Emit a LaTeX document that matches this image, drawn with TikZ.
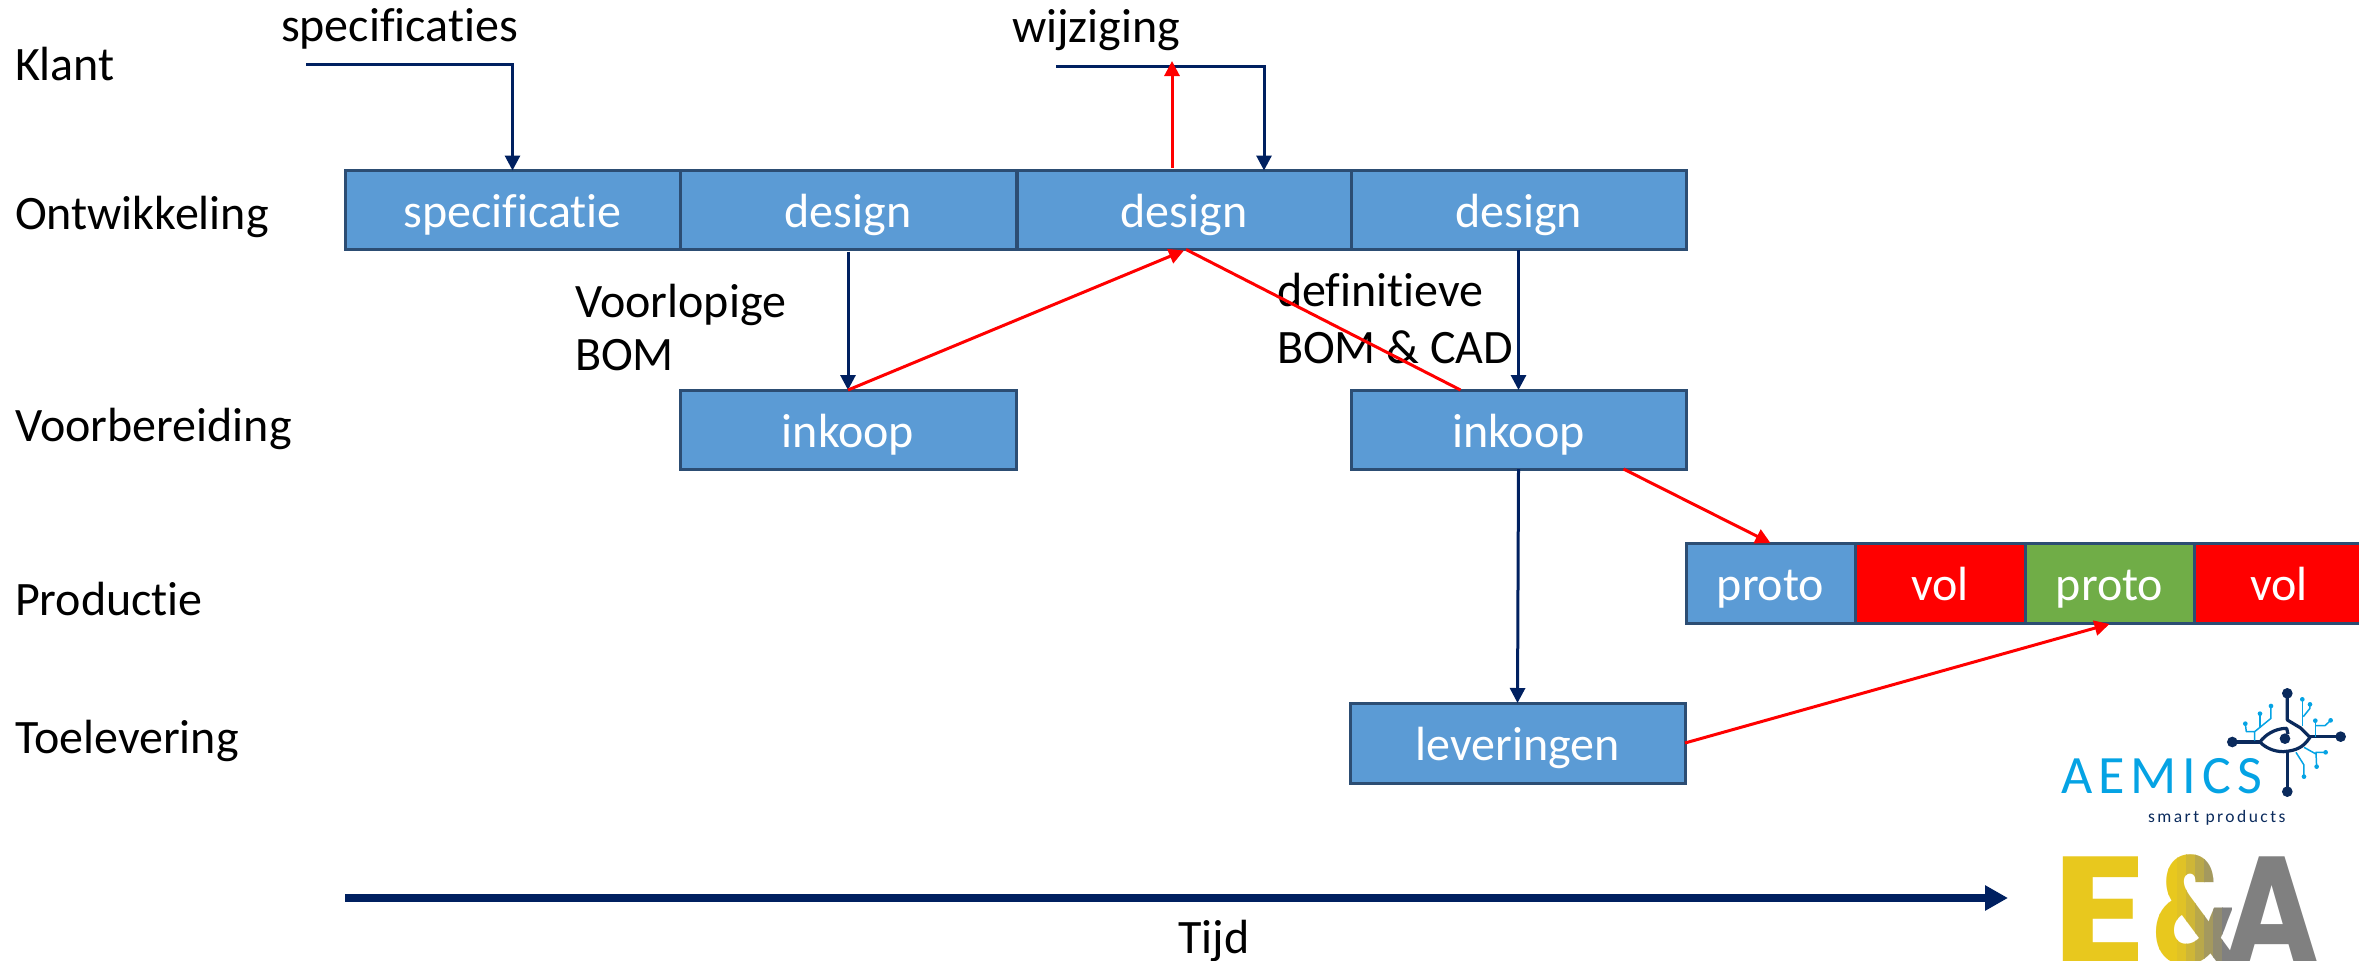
\documentclass[tikz,border=0pt]{standalone}
\usepackage{fontspec}
\setmainfont{Carlito}[Ligatures={NoCommon,NoRequired,NoContextual}]
\newfontfamily\logofont{Carlito}
\newfontfamily\eafont{Poppins}[UprightFont=* Bold]
\usetikzlibrary{arrows.meta,calc}
\definecolor{boxblue}{HTML}{5B9BD5}
\definecolor{boxline}{HTML}{2C4D73}
\definecolor{boxgreen}{HTML}{70AD47}
\definecolor{navy}{HTML}{002060}
\definecolor{logonavy}{HTML}{0A2A5C}
\definecolor{logocyan}{HTML}{05A3E4}
\definecolor{gold}{HTML}{E8C81E}
\definecolor{steel}{HTML}{808080}
\tikzset{
  txt/.style={inner sep=0pt,outer sep=0pt,font=\fontsize{48}{57}\selectfont},
  stagebox/.style={draw=boxline,line width=3pt,fill=boxblue,text=white,inner sep=0pt,outer sep=0pt,
    minimum height=79pt,text height=35pt,text depth=0pt,font=\fontsize{48}{57}\selectfont},
  flow/.style={navy,line width=3pt,-{Triangle[length=15pt,width=15pt]}},
  redflow/.style={red,line width=3pt,-{Triangle[length=15pt,width=15pt]}},
  redplain/.style={red,line width=3pt},
  timeflow/.style={navy,line width=8pt,-{Triangle[length=23pt,width=24pt]}},
  navytrace/.style={logonavy,line width=3.2pt,line join=round},
  cyantrace/.style={logocyan,line width=1.5pt,line join=round},
}
\begin{document}
\begin{tikzpicture}[x=1pt,y=-1pt]
\useasboundingbox (0,0) rectangle (2359,961);
\clip (0,0) rectangle (2359,961);
% row labels
\node[txt,anchor=base west] (klant) at (15,80.5) {Klant};
\node[txt,anchor=base west] (ontw) at (15,229) {Ontwikkeling};
\node[txt,anchor=base west] (voorb) at (15,441.5) {Voorbereiding};
\node[txt,anchor=base west] (prod) at (15,615.5) {Productie};
\node[txt,anchor=base west] (toel) at (15,753) {Toelevering};
% boxes
\node[stagebox,minimum width=335pt] (spec) at (512.5,210) {specificatie};
\node[stagebox,minimum width=336pt] (des1) at (848,210) {design};
\node[stagebox,minimum width=334pt] (des2) at (1184,210) {design};
\node[stagebox,minimum width=335pt] (des3) at (1518.5,210) {design};
\node[stagebox,minimum width=336pt] (ink1) at (848,429.5) {inkoop};
\node[stagebox,minimum width=335pt] (ink2) at (1518.5,429.5) {inkoop};
\node[stagebox,minimum width=169pt,minimum height=80pt] (proto1) at (1770.5,583) {proto};
\node[stagebox,minimum width=170pt,minimum height=80pt,fill=red] (vol1) at (1940,583) {vol};
\node[stagebox,minimum width=169pt,minimum height=80pt,fill=boxgreen] (proto2) at (2109.5,583) {proto};
\node[stagebox,minimum width=170pt,minimum height=80pt,fill=red] (vol2) at (2279,583) {vol};
\node[stagebox,minimum width=335pt,minimum height=80pt] (lev) at (1517.5,743) {leveringen};
% text labels
\node[txt,anchor=base west] (specs) at (281,41) {specificaties};
\node[txt,anchor=base west] (wijz) at (1012,42) {wijziging};
\node[txt,anchor=north west,align=left,font=\fontsize{48}{53}\selectfont] (vbom) at (575,284) {Voorlopige\\BOM};
\node[txt,anchor=north west,align=left] (dbom) at (1277,273) {definitieve\\BOM \& CAD};
\node[txt,anchor=base] (tijd) at (1214,953) {Tijd};
% free ends
\coordinate (specin) at (306,64);
\coordinate (wijzin) at (1056,66);
\coordinate (wijzup) at (1172,61);
\coordinate (tstart) at (345,898);
\coordinate (tend) at (2008,898);
% connectors
\draw[flow] (specin) -| (spec.north);
\draw[flow] (wijzin) -| ([xshift=80pt]des2.north);
\draw[redflow] ([xshift=-12pt,yshift=3pt]des2.north) -- (wijzup);
\draw[flow] ([yshift=-2pt]des1.south) -- (ink1.north);
\draw[flow] (des3.south) -- (ink2.north);
\draw[redflow] (ink1.north) -- ([yshift=-1pt]des2.south);
\draw[redplain] ([xshift=-58pt]ink2.north) -- ([xshift=2pt]des2.south);
\draw[flow] (ink2.south) -- (lev.north);
\draw[redflow] ([xshift=105pt]ink2.south) -- (proto1.north);
\draw[redflow] (lev.east) -- ([yshift=-1pt]proto2.south);
\draw[timeflow] (tstart) -- (tend);
% AEMICS logo
\begin{scope}[shift={(1950,660)},x=0.3333pt,y=-0.3333pt]
  \node[inner sep=0pt,anchor=base west,text=logocyan,font={\logofont\fontsize{54}{54}\selectfont\addfontfeature{LetterSpace=11}}] (aemics) at (333,400) {AEMICS};
  \node[inner sep=0pt,anchor=base west,text=logonavy,font={\logofont\fontsize{17.5}{18}\selectfont\addfontfeature{LetterSpace=14}}] (smart) at (594,487) {smart products};
  % navy traces
  \draw[navytrace] (1012,100) -- (1012,180) -- (1052,204) -- (1080,232) .. controls (1060,262) and (1040,272) .. (1000,275) .. controls (970,275) and (945,262) .. (930,246) .. controls (945,225) and (975,205) .. (1010,205) -- (1014,222);
  \draw[navytrace] (1012,272) -- (1012,395);
  \draw[navytrace] (847,246) -- (930,246);
  \draw[navytrace] (1080,230) -- (1172,230);
  \fill[logonavy] (1012,100) circle[radius=16] (1012,395) circle[radius=16] (847,246) circle[radius=16] (1172,230) circle[radius=16] (1005,236) circle[radius=16];
  % cyan traces
  \draw[cyantrace] (886,191) -- (889,215) -- (914,215) -- (914,242);
  \draw[cyantrace] (930,161) -- (930,205);
  \draw[cyantrace] (963,138) -- (963,175) -- (914,215);
  \draw[cyantrace] (1057,118) -- (1057,198);
  \draw[cyantrace] (1080,133) -- (1080,145) -- (1060,170);
  \draw[cyantrace] (1096,182) -- (1096,230);
  \draw[cyantrace] (1142,181) -- (1125,197) -- (1096,197);
  \draw[cyantrace] (1127,277) -- (1098,277) -- (1100,320);
  \draw[cyantrace] (1062,262) -- (1098,282);
  \draw[cyantrace] (1038,277) -- (1062,315) -- (1062,350);
  \fill[logocyan] (886,191) circle[radius=7] (930,161) circle[radius=7] (963,138) circle[radius=7] (1057,118) circle[radius=7] (1080,133) circle[radius=7] (1096,182) circle[radius=7] (1142,181) circle[radius=7] (1127,277) circle[radius=7] (1100,320) circle[radius=7] (1062,350) circle[radius=7];
\end{scope}
% E&A logo
\node[inner sep=0pt,anchor=base west,xscale=1.15,text=gold,font={\eafont\fontsize{152}{152}\selectfont}] (eaE) at (2052,963) {E};
\begin{scope}
  \foreach \i/\c in {0/100,1/100,2/100,3/92,4/75,5/55,6/35,7/15,8/0}{
    \begin{scope}
      \clip (2150+\i*9,850) rectangle ++(9.5,120);
      \node[inner sep=0pt,anchor=base west,xscale=0.72,text=gold!\c!steel,font={\eafont\fontsize{152}{152}\selectfont}] at (2152,963) {\&};
    \end{scope}
  }
\end{scope}
\node[inner sep=0pt,anchor=base west,xscale=0.85,text=steel,font={\eafont\fontsize{152}{152}\selectfont}] (eaA) at (2224,963) {A};
\end{tikzpicture}
\end{document}
